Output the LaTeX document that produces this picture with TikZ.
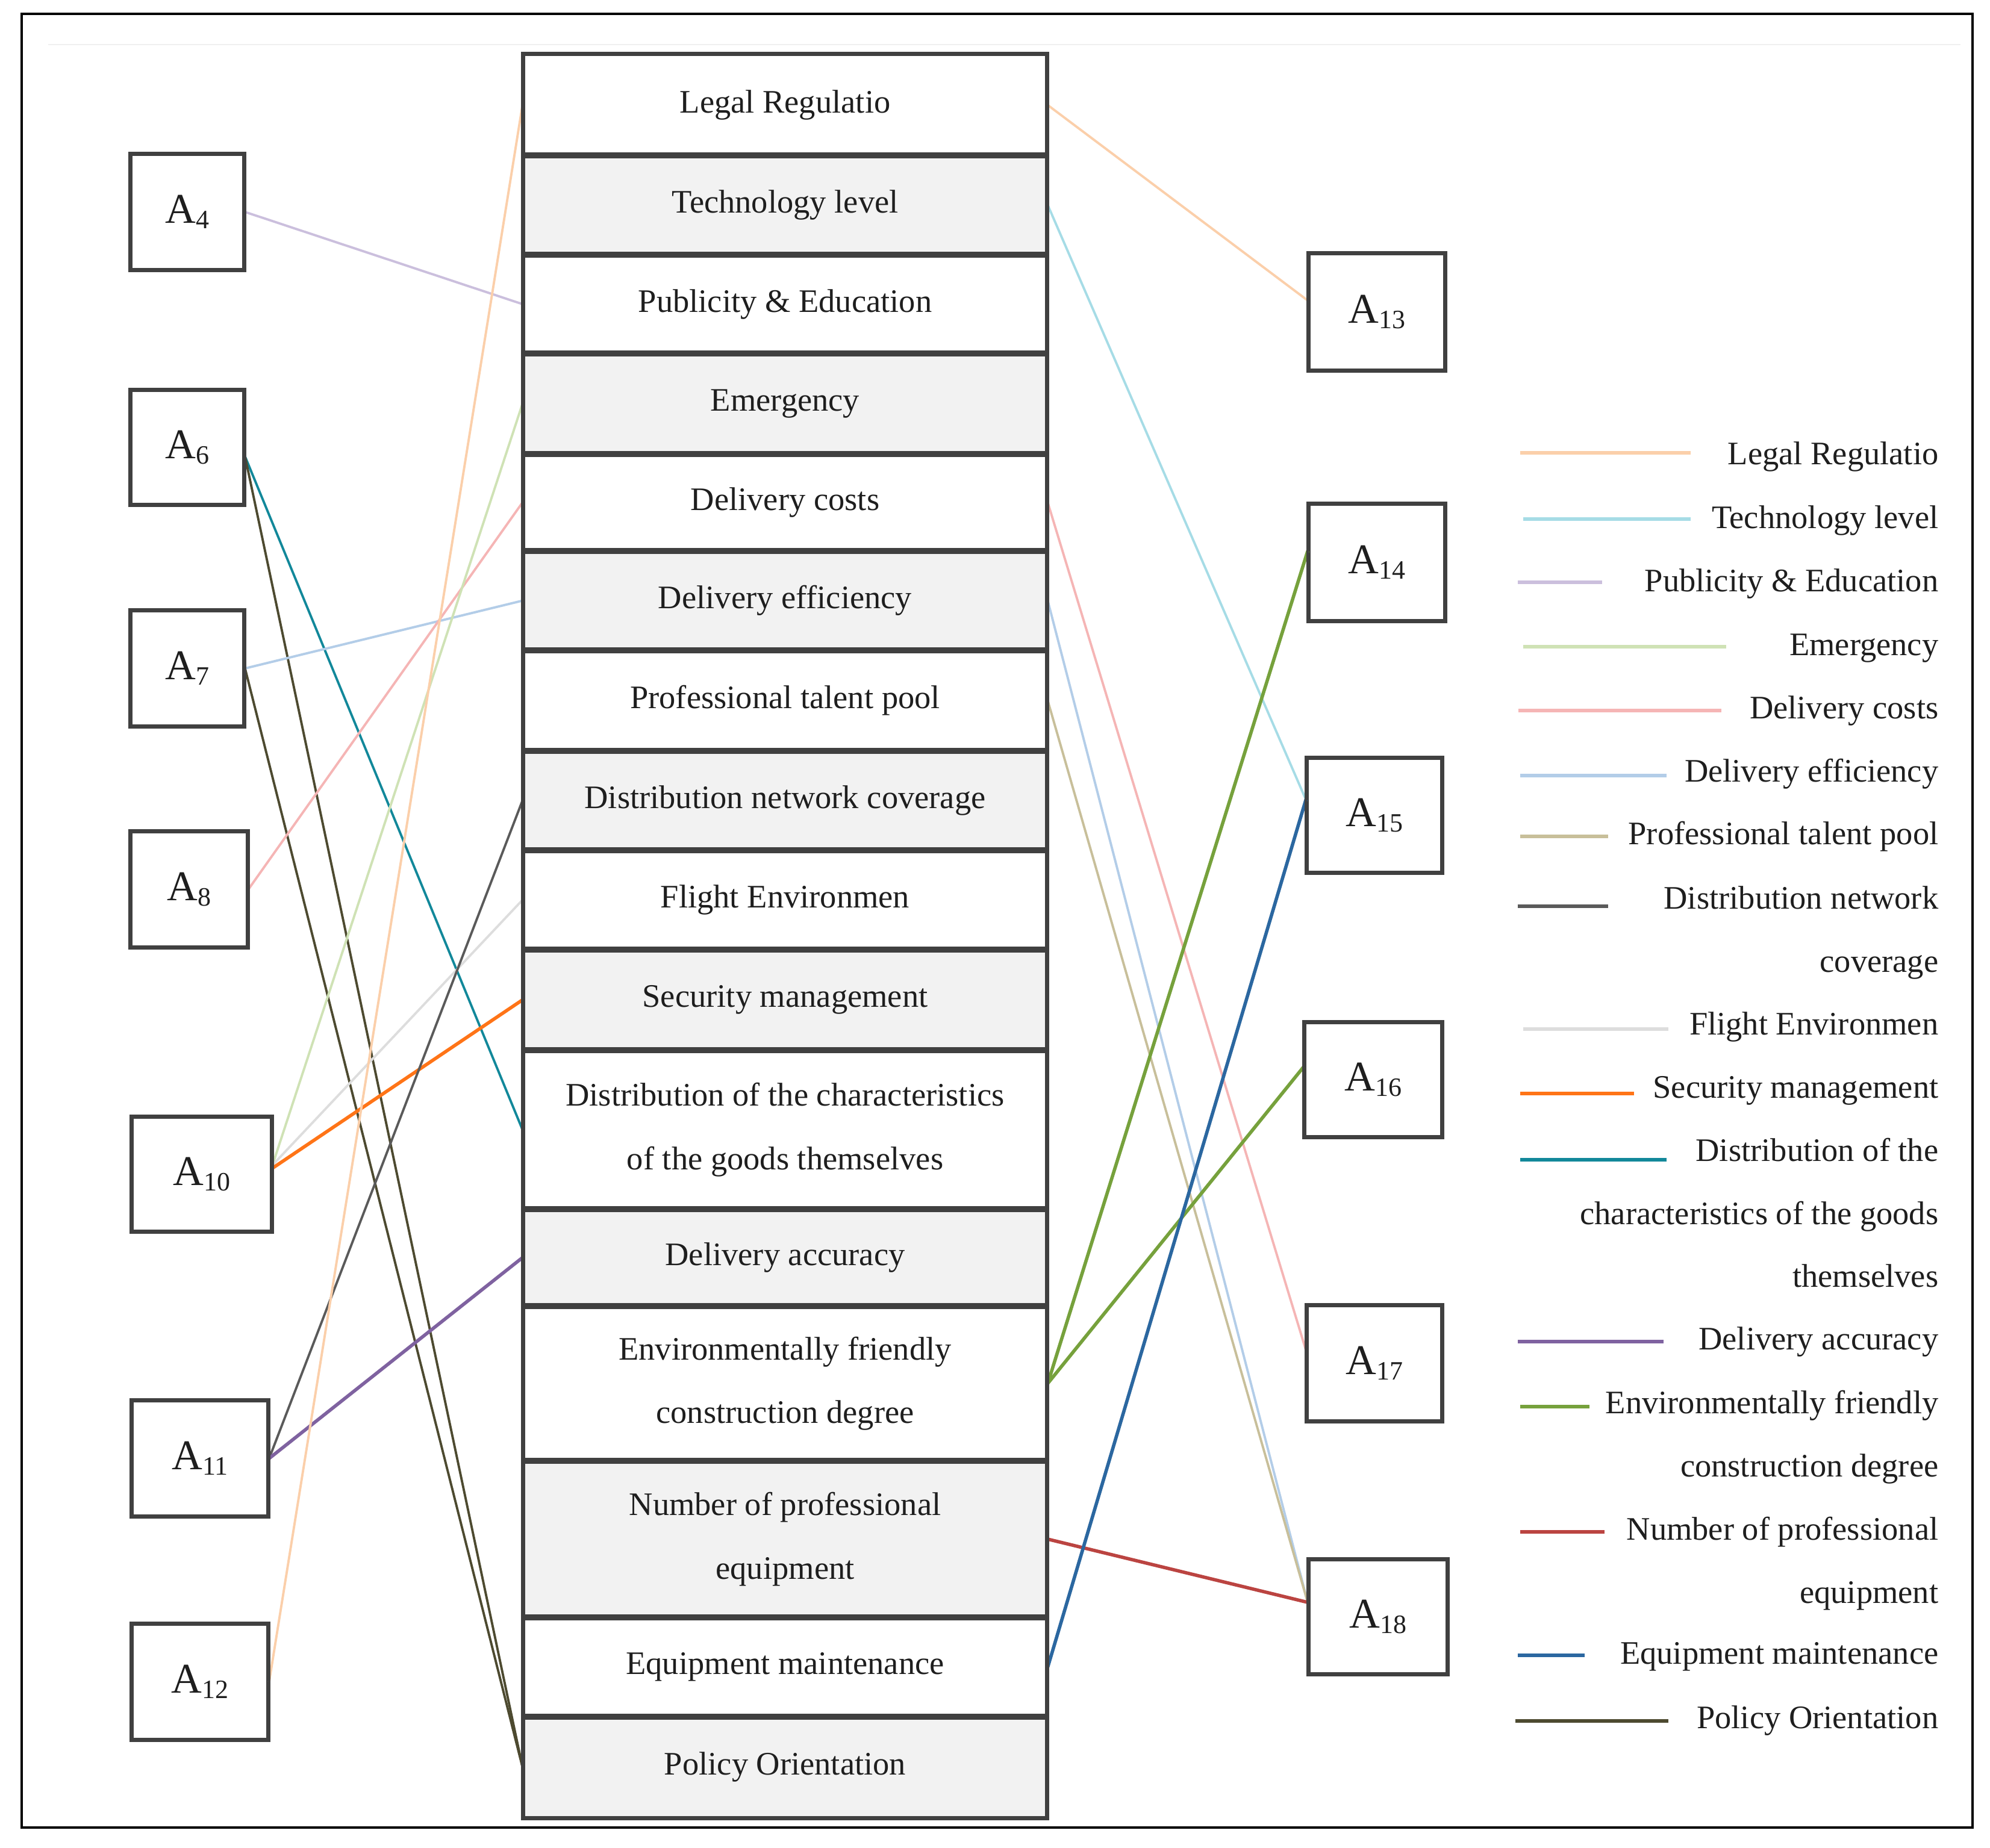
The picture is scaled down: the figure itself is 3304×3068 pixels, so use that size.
\documentclass[tikz,border=0pt]{standalone}
\usepackage{fontspec}
\setmainfont{Liberation Serif}
\usetikzlibrary{calc}
\definecolor{cLegal}{HTML}{FBCFAA}
\definecolor{cTech}{HTML}{A6DCE6}
\definecolor{cPub}{HTML}{CBBFDD}
\definecolor{cEmer}{HTML}{CFE2B5}
\definecolor{cCost}{HTML}{F5B5B5}
\definecolor{cEff}{HTML}{B3CDE8}
\definecolor{cTalent}{HTML}{C8BF9A}
\definecolor{cNet}{HTML}{5A5A5A}
\definecolor{cFlight}{HTML}{DDDDDD}
\definecolor{cSec}{HTML}{FF7417}
\definecolor{cDistC}{HTML}{12889A}
\definecolor{cAcc}{HTML}{7F62A0}
\definecolor{cEnv}{HTML}{76A13C}
\definecolor{cNum}{HTML}{BB4441}
\definecolor{cMaint}{HTML}{2B67A0}
\definecolor{cPolicy}{HTML}{4D4A30}
\definecolor{cellline}{HTML}{404040}
\definecolor{cellgray}{HTML}{F2F2F2}
\definecolor{txt}{HTML}{1E1E1E}
\newcommand{\Alab}[1]{A\raisebox{-2.6pt}{\fontsize{12.5}{12.5}\selectfont #1}}
\tikzset{
  cellw/.style={draw=cellline, fill=white, line width=1.3pt, minimum width=8.67cm, inner sep=0pt, align=center, text=txt, font=\fontsize{15.5}{30}\selectfont},
  cellg/.style={cellw, fill=cellgray},
  abox/.style={draw=cellline, fill=white, line width=1.3pt, inner sep=0pt, text=txt, font=\fontsize{20}{20}\selectfont},
  legtext/.style={anchor=east, inner sep=0pt, text=txt, font=\fontsize{15.5}{18}\selectfont, text height=11pt, text depth=3.5pt},
  conn/.style={line width=1.1pt},
  connthick/.style={line width=1.6pt},
  legline/.style={line width=1.6pt},
}
\begin{document}
\begin{tikzpicture}[x=0.01cm,y=-0.01cm]
\useasboundingbox (0,0) rectangle (3304,3068);
\fill[white] (0,0) rectangle (3304,3068);
% faint top rule
\draw[line width=0.6pt, black!6] (80,74) -- (3255,74);
% outer frame
\draw[line width=1.3pt, black] (36,23) rectangle (3275,3035);

% coordinates of nodes (positions only)
\coordinate (pA4) at (311,352);
% left boxes
\node[abox, minimum width=1.87cm, minimum height=1.91cm] (A4) at (311,352) {\Alab{4}};
\node[abox, minimum width=1.87cm, minimum height=1.89cm] (A6) at (311,743) {\Alab{6}};
\node[abox, minimum width=1.87cm, minimum height=1.91cm] (A7) at (311,1110) {\Alab{7}};
\node[abox, minimum width=1.92cm, minimum height=1.91cm] (A8) at (314,1477) {\Alab{8}};
\node[abox, minimum width=2.30cm, minimum height=1.88cm] (A10) at (335,1950) {\Alab{10}};
\node[abox, minimum width=2.25cm, minimum height=1.91cm] (A11) at (332,2422) {\Alab{11}};
\node[abox, minimum width=2.25cm, minimum height=1.90cm] (A12) at (332,2793) {\Alab{12}};
% right boxes
\node[abox, minimum width=2.25cm, minimum height=1.93cm] (A13) at (2286,518) {\Alab{13}};
\node[abox, minimum width=2.25cm, minimum height=1.92cm] (A14) at (2286,934) {\Alab{14}};
\node[abox, minimum width=2.23cm, minimum height=1.88cm] (A15) at (2282,1354) {\Alab{15}};
\node[abox, minimum width=2.27cm, minimum height=1.88cm] (A16) at (2280,1793) {\Alab{16}};
\node[abox, minimum width=2.23cm, minimum height=1.91cm] (A17) at (2282,2264) {\Alab{17}};
\node[abox, minimum width=2.29cm, minimum height=1.89cm] (A18) at (2288,2685) {\Alab{18}};

% central column
\node[cellw, minimum height=1.67cm] (r1) at (1303.5,174.5) {Legal Regulatio};
\node[cellg, minimum height=1.65cm] (r2) at (1303.5,340.5) {Technology level};
\node[cellw, minimum height=1.64cm] (r3) at (1303.5,505) {Publicity \& Education};
\node[cellg, minimum height=1.67cm] (r4) at (1303.5,670.5) {Emergency};
\node[cellw, minimum height=1.61cm] (r5) at (1303.5,834.5) {Delivery costs};
\node[cellg, minimum height=1.65cm] (r6) at (1303.5,997.5) {Delivery efficiency};
\node[cellw, minimum height=1.67cm] (r7) at (1303.5,1163.5) {Professional talent pool};
\node[cellg, minimum height=1.65cm] (r8) at (1303.5,1329.5) {Distribution network coverage};
\node[cellw, minimum height=1.65cm] (r9) at (1303.5,1494.5) {Flight Environmen};
\node[cellg, minimum height=1.67cm] (r10) at (1303.5,1660.5) {Security management};
\node[cellw, minimum height=2.64cm] (r11) at (1303.5,1876) {Distribution of the characteristics\\of the goods themselves};
\node[cellg, minimum height=1.61cm] (r12) at (1303.5,2088.5) {Delivery accuracy};
\node[cellw, minimum height=2.57cm] (r13) at (1303.5,2297.5) {Environmentally friendly\\construction degree};
\node[cellg, minimum height=2.60cm] (r14) at (1303.5,2556) {Number of professional\\equipment};
\node[cellw, minimum height=1.65cm] (r15) at (1303.5,2768.5) {Equipment maintenance};
\node[cellg, minimum height=1.67cm] (r16) at (1303.5,2934.5) {Policy Orientation};

% left connectors
\draw[conn, cPub] (A4.east) -- (r3.west);
\draw[conn, cDistC] ([yshift=-0.15cm]A6.east) -- (r11.west);
\draw[conn, cPolicy] ([yshift=-0.15cm]A6.east) -- (r16.west);
\draw[conn, cEff] (A7.east) -- (r6.west);
\draw[conn, cPolicy] (A7.east) -- (r16.west);
\draw[conn, cCost] (A8.east) -- (r5.west);
\draw[conn, cEmer] ([yshift=0.15cm]A10.east) -- (r4.west);
\draw[conn, cFlight] ([yshift=0.15cm]A10.east) -- (r9.west);
\draw[connthick, cSec] ([yshift=0.1cm]A10.east) -- (r10.west);
\draw[conn, cNet] (A11.east) -- (r8.west);
\draw[connthick, cAcc] (A11.east) -- (r12.west);
\draw[conn, cLegal] (A12.east) -- (r1.west);
% right connectors
\draw[conn, cLegal] (r1.east) -- ([yshift=0.19cm]A13.west);
\draw[conn, cTech] (r2.east) -- ([yshift=0.26cm]A15.west);
\draw[conn, cCost] (r5.east) -- ([yshift=0.22cm]A17.west);
\draw[conn, cEff] (r6.east) -- ([yshift=0.24cm]A18.west);
\draw[conn, cTalent] (r7.east) -- ([yshift=0.24cm]A18.west);
\draw[connthick, cEnv] (r13.east) -- ([yshift=0.19cm]A14.west);
\draw[connthick, cEnv] (r13.east) -- ([yshift=0.21cm]A16.west);
\draw[connthick, cNum] (r14.east) -- ([yshift=0.24cm]A18.west);
\draw[connthick, cMaint] (r15.east) -- ([yshift=0.26cm]A15.west);

% redraw boxes and cells borders on top
\foreach \n in {A4,A6,A7,A8,A10,A11,A12,A13,A14,A15,A16,A17,A18,r1,r2,r3,r4,r5,r6,r7,r8,r9,r10,r11,r12,r13,r14,r15,r16}
  \draw[cellline, line width=1.3pt] (\n.north west) rectangle (\n.south east);

% legend
\node[legtext] (L1) at (3219,758) {Legal Regulatio};
\node[legtext] (L2) at (3219,864) {Technology level};
\node[legtext] (L3) at (3219,969) {Publicity \& Education};
\node[legtext] (L4) at (3219,1075) {Emergency};
\node[legtext] (L5) at (3219,1180) {Delivery costs};
\node[legtext] (L6) at (3219,1285) {Delivery efficiency};
\node[legtext] (L7) at (3219,1389) {Professional talent pool};
\node[legtext] (L8) at (3219,1496) {Distribution network};
\node[legtext] (L8b) at (3219,1601) {coverage};
\node[legtext] (L9) at (3219,1705) {Flight Environmen};
\node[legtext] (L10) at (3219,1810) {Security management};
\node[legtext] (L11) at (3219,1915) {Distribution of the};
\node[legtext] (L11b) at (3219,2020) {characteristics of the goods};
\node[legtext] (L11c) at (3219,2124) {themselves};
\node[legtext] (L12) at (3219,2228) {Delivery accuracy};
\node[legtext] (L13) at (3219,2334) {Environmentally friendly};
\node[legtext] (L13b) at (3219,2439) {construction degree};
\node[legtext] (L14) at (3219,2544) {Number of professional};
\node[legtext] (L14b) at (3219,2649) {equipment};
\node[legtext] (L15) at (3219,2750) {Equipment maintenance};
\node[legtext] (L16) at (3219,2857) {Policy Orientation};

\draw[legline, cLegal] (2524,752) -- (2807,752);
\draw[legline, cTech] (2529,862) -- (2807,862);
\draw[legline, cPub] (2520,967) -- (2660,967);
\draw[legline, cEmer] (2529,1074) -- (2866,1074);
\draw[legline, cCost] (2521,1180) -- (2858,1180);
\draw[legline, cEff] (2524,1288) -- (2767,1288);
\draw[legline, cTalent] (2524,1389) -- (2670,1389);
\draw[legline, cNet] (2520,1505) -- (2670,1505);
\draw[legline, cFlight] (2529,1709) -- (2770,1709);
\draw[legline, cSec] (2524,1816) -- (2713,1816);
\draw[legline, cDistC] (2524,1926) -- (2767,1926);
\draw[legline, cAcc] (2520,2228) -- (2762,2228);
\draw[legline, cEnv] (2524,2336) -- (2639,2336);
\draw[legline, cNum] (2524,2544) -- (2664,2544);
\draw[legline, cMaint] (2520,2749) -- (2631,2749);
\draw[legline, cPolicy] (2516,2858) -- (2770,2858);
\end{tikzpicture}
\end{document}
